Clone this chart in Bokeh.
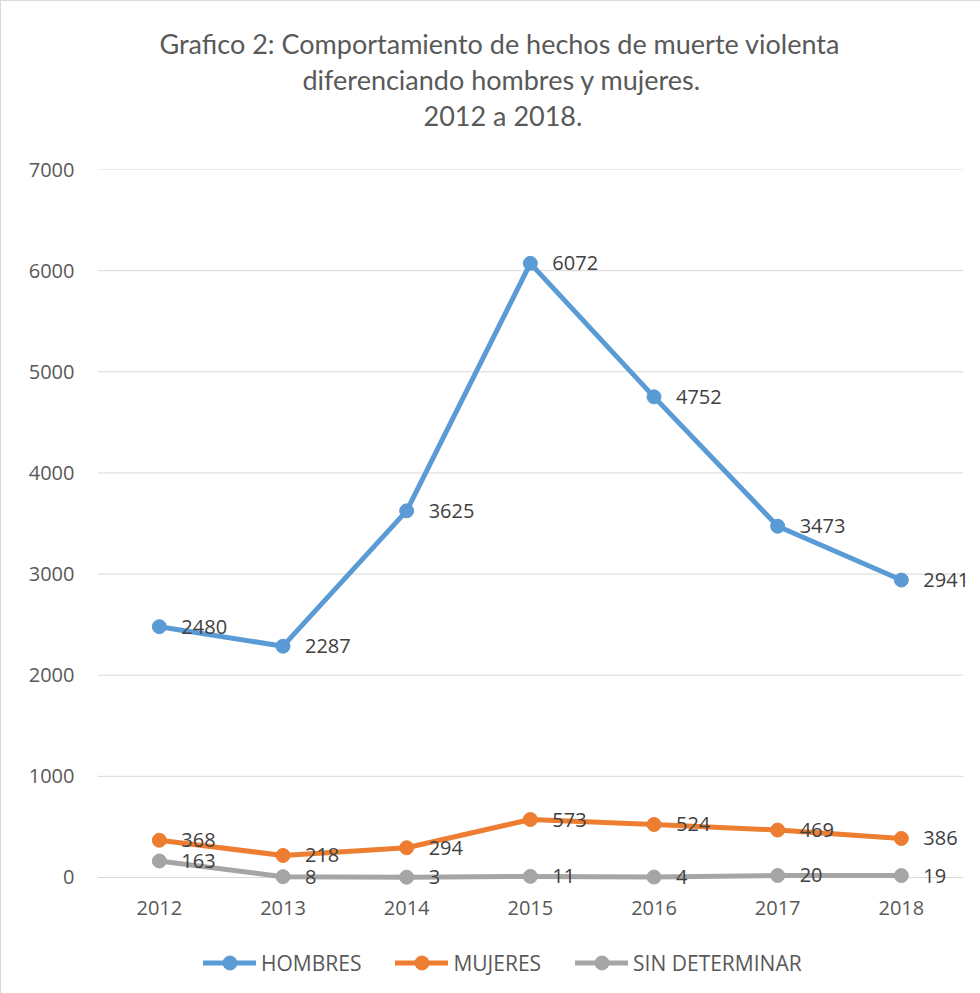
from bokeh.plotting import figure
from bokeh.layouts import column
from bokeh.models import (ColumnDataSource, LabelSet, Legend, LegendItem, Title,
                          Range1d, FixedTicker)
from bokeh.core.properties import value
from bokeh.embed import file_html
from bokeh.resources import INLINE

# ---- data ----
years = [2012, 2013, 2014, 2015, 2016, 2017, 2018]
year_labels = ["2012", "2013", "2014", "2015", "2016", "2017", "2018"]
hombres = [2480, 2287, 3625, 6072, 4752, 3473, 2941]
mujeres = [368, 218, 294, 573, 524, 469, 386]
sin_determinar = [163, 8, 3, 11, 4, 20, 19]
series_names = ["HOMBRES", "MUJERES", "SIN DETERMINAR"]
series_colors = ["#5B9BD5", "#ED7D31", "#A5A5A5"]
title_lines = ["Grafico 2: Comportamiento de hechos de muerte violenta",
               "diferenciando hombres y mujeres.",
               "2012 a 2018."]
y_ticks = [0, 1000, 2000, 3000, 4000, 5000, 6000, 7000]

TXT = "#595959"
LBL = "#404040"
GRID = "#d9d9d9"
FONT = "Open Sans"
LW = 5
MS = 14

x_lo = years[0] - 0.5
x_hi = years[-1] + 0.5

p = figure(width=979, height=926,
           x_range=Range1d(x_lo, 2018.64),
           y_range=Range1d(-178, 7000),
           output_backend="svg", toolbar_location=None,
           min_border_left=96, min_border_right=0,
           min_border_top=168, min_border_bottom=32)
p.title = None
p.outline_line_color = None
p.background_fill_color = "white"
p.border_fill_color = "white"
p.xgrid.grid_line_color = None
p.ygrid.grid_line_color = None

# horizontal gridlines spanning the category area only
p.segment(x0=[x_lo] * len(y_ticks), x1=[x_hi] * len(y_ticks), y0=y_ticks, y1=y_ticks,
          line_color=GRID, line_width=1)

p.yaxis.ticker = FixedTicker(ticks=y_ticks)
p.yaxis.axis_line_color = None
p.yaxis.major_tick_line_color = None
p.yaxis.minor_tick_line_color = None
p.yaxis.major_label_standoff = 17
p.yaxis.major_label_text_font = FONT
p.yaxis.major_label_text_font_size = "20px"
p.yaxis.major_label_text_color = TXT

p.xaxis.ticker = FixedTicker(ticks=years)
p.xaxis.major_label_overrides = dict(zip(years, year_labels))
p.xaxis.axis_line_color = None
p.xaxis.major_tick_line_color = None
p.xaxis.minor_tick_line_color = None
p.xaxis.major_tick_out = 0
p.xaxis.major_label_standoff = 5
p.xaxis.major_label_text_font = FONT
p.xaxis.major_label_text_font_size = "20px"
p.xaxis.major_label_text_color = TXT

all_values = [hombres, mujeres, sin_determinar]
sources = []
for name, vals, col in zip(series_names, all_values, series_colors):
    src = ColumnDataSource(dict(x=years, y=vals, t=[str(v) for v in vals]))
    sources.append(src)
    p.line("x", "y", source=src, line_color=col, line_width=LW,
           line_join="round", line_cap="round")
    p.scatter("x", "y", source=src, size=MS, fill_color=col, line_color=col)
    p.add_layout(LabelSet(x="x", y="y", text="t", source=src, x_offset=22, y_offset=0,
                          text_align="left", text_baseline="middle",
                          text_font=value(FONT), text_font_size="20px", text_color=LBL))

# title: spacer nearest the frame, then lines 3, 2, 1 upward
p.add_layout(Title(text=" ", text_font_size="20px", standoff=12), "above")
title_offsets = [62, 205, 326]
for line, off in reversed(list(zip(title_lines, title_offsets))):
    p.add_layout(Title(text=line, align="left", offset=off, vertical_align="middle",
                       standoff=1, text_font="Lato", text_font_size="27px",
                       text_font_style="normal", text_color=TXT), "above")

# ---- legend strip below the chart (its series lie outside this strip's view) ----
lg = figure(width=979, height=66, x_range=Range1d(0, 1), y_range=Range1d(0, 1),
            x_axis_type=None, y_axis_type=None, output_backend="svg",
            toolbar_location=None, min_border=0)
lg.title = None
lg.outline_line_color = None
lg.grid.grid_line_color = None
items = []
for name, col, src in zip(series_names, series_colors, sources):
    r1 = lg.line("x", "y", source=src, line_color=col, line_width=LW,
                 line_join="round", line_cap="round")
    r2 = lg.scatter("x", "y", source=src, size=MS, fill_color=col, line_color=col)
    items.append(LegendItem(label=name, renderers=[r1, r2]))
legend = Legend(items=items, orientation="horizontal", location=(106, 13),
                glyph_width=53, glyph_height=35, label_standoff=5, spacing=34,
                padding=4, margin=0, border_line_color=None,
                background_fill_alpha=0,
                label_text_font=FONT, label_text_font_size="21px",
                label_text_color=TXT)
lg.add_layout(legend, "center")

layout = column(p, lg, spacing=0)
layout.styles = {"border-left": "1px solid #d9d9d9", "border-top": "1px solid #d9d9d9"}

open("out.html", "w").write(file_html(layout, INLINE))
